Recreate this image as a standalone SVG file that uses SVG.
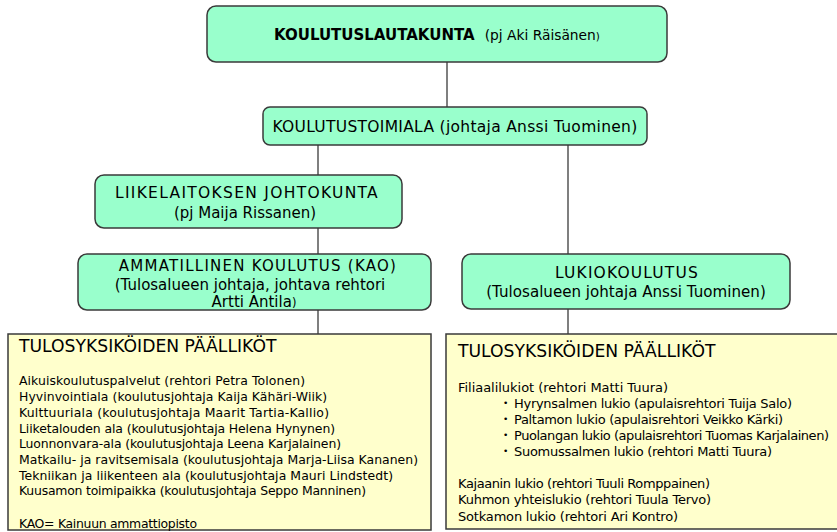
<svg xmlns="http://www.w3.org/2000/svg" width="837" height="532" viewBox="0 0 837 532">
<style>
.g{fill:#9fc;stroke:#3a3a3a;stroke-width:1.5}
.y{fill:#ffc;stroke:#3a3a3a;stroke-width:1.5}
text{font-family:"DejaVu Sans",sans-serif;fill:#000}
.c{text-anchor:middle}
.l{font-size:12.45px}
.r{font-size:13px}
.b{font-size:9px}
.h{font-size:17.2px}
.con line{stroke:#555;stroke-width:1.5}
</style>
<rect width="837" height="532" fill="#fff"/>
<g class="con">
<line x1="447" y1="62" x2="447" y2="107"/>
<line x1="318" y1="145" x2="318" y2="334"/>
<line x1="568" y1="145" x2="568" y2="334"/>
</g>
<g id="koulutuslautakunta">
<rect class="g" x="207" y="6" width="460" height="56" rx="9"/>
<text x="274" y="40" font-size="15"><tspan font-weight="bold">KOULUTUSLAUTAKUNTA</tspan><tspan dx="10" font-size="13.8">(pj Aki Räisänen</tspan><tspan font-size="10.5">)</tspan></text>
</g>
<g id="koulutustoimiala">
<rect class="g" x="263" y="107" width="384" height="38" rx="7"/>
<text class="c" x="455" y="132" font-size="15.5" letter-spacing="0.3">KOULUTUSTOIMIALA (johtaja Anssi Tuominen)</text>
</g>
<g id="liikelaitos">
<rect class="g" x="95" y="175" width="307" height="53" rx="9"/>
<text class="c" x="247" y="198" font-size="15.5" letter-spacing="1.3">LIIKELAITOKSEN JOHTOKUNTA</text>
<text class="c" x="245" y="218" font-size="15">(pj Maija Rissanen)</text>
</g>
<g id="ammatillinen">
<rect class="g" x="78" y="254" width="353" height="56" rx="9"/>
<text class="c" x="258" y="271" font-size="15" letter-spacing="1.25">AMMATILLINEN KOULUTUS (KAO)</text>
<text class="c" x="250" y="290" font-size="15">(Tulosalueen johtaja, johtava rehtori</text>
<text class="c" x="254" y="307" font-size="15">Artti Antila<tspan font-size="11.5">)</tspan></text>
</g>
<g id="lukiokoulutus">
<rect class="g" x="462" y="254" width="328" height="55" rx="9"/>
<text class="c" x="627" y="278" font-size="15.5" letter-spacing="1.15">LUKIOKOULUTUS</text>
<text class="c" x="626" y="297" font-size="15.1">(Tulosalueen johtaja Anssi Tuominen)</text>
</g>
<g id="tulosyksikot-ammatillinen">
<rect class="y" x="8" y="334" width="423" height="196"/>
<text class="h" x="19" y="352">TULOSYKSIKÖIDEN PÄÄLLIKÖT</text>
<text class="l" x="19" y="385" textLength="286">Aikuiskoulutuspalvelut (rehtori Petra Tolonen)</text>
<text class="l" x="19" y="401" textLength="308">Hyvinvointiala (koulutusjohtaja Kaija Kähäri-Wiik)</text>
<text class="l" x="19" y="416.5" textLength="310">Kulttuuriala (koulutusjohtaja Maarit Tartia-Kallio)</text>
<text class="l" x="19" y="432.5" textLength="316">Liiketalouden ala (koulutusjohtaja Helena Hynynen)</text>
<text class="l" x="19" y="448" textLength="322">Luonnonvara-ala (koulutusjohtaja Leena Karjalainen)</text>
<text class="l" x="19" y="464" textLength="399">Matkailu- ja ravitsemisala (koulutusjohtaja Marja-Liisa Kananen)</text>
<text class="l" x="19" y="479.5" textLength="374">Tekniikan ja liikenteen ala (koulutusjohtaja Mauri Lindstedt)</text>
<text class="l" x="19" y="495" textLength="347">Kuusamon toimipaikka (koulutusjohtaja Seppo Manninen)</text>
<text class="l" x="19" y="527.5" textLength="178">KAO= Kainuun ammattiopisto</text>
</g>
<g id="tulosyksikot-lukio">
<rect class="y" x="446" y="334" width="400" height="195"/>
<text class="h" x="458" y="357">TULOSYKSIKÖIDEN PÄÄLLIKÖT</text>
<text class="r" x="458" y="392" textLength="210">Filiaalilukiot (rehtori Matti Tuura)</text>
<text class="b" x="503" y="406">•</text>
<text class="r" x="514" y="408" textLength="278">Hyrynsalmen lukio (apulaisrehtori Tuija Salo)</text>
<text class="b" x="503" y="422">•</text>
<text class="r" x="514" y="424" textLength="269">Paltamon lukio (apulaisrehtori Veikko Kärki)</text>
<text class="b" x="503" y="438">•</text>
<text class="r" x="514" y="440" textLength="315">Puolangan lukio (apulaisrehtori Tuomas Karjalainen)</text>
<text class="b" x="503" y="454">•</text>
<text class="r" x="514" y="456" textLength="258">Suomussalmen lukio (rehtori Matti Tuura)</text>
<text class="r" x="458" y="488" textLength="252">Kajaanin lukio (rehtori Tuuli Romppainen)</text>
<text class="r" x="458" y="504" textLength="253">Kuhmon yhteislukio (rehtori Tuula Tervo)</text>
<text class="r" x="458" y="521" textLength="220">Sotkamon lukio (rehtori Ari Kontro)</text>
</g>
</svg>
